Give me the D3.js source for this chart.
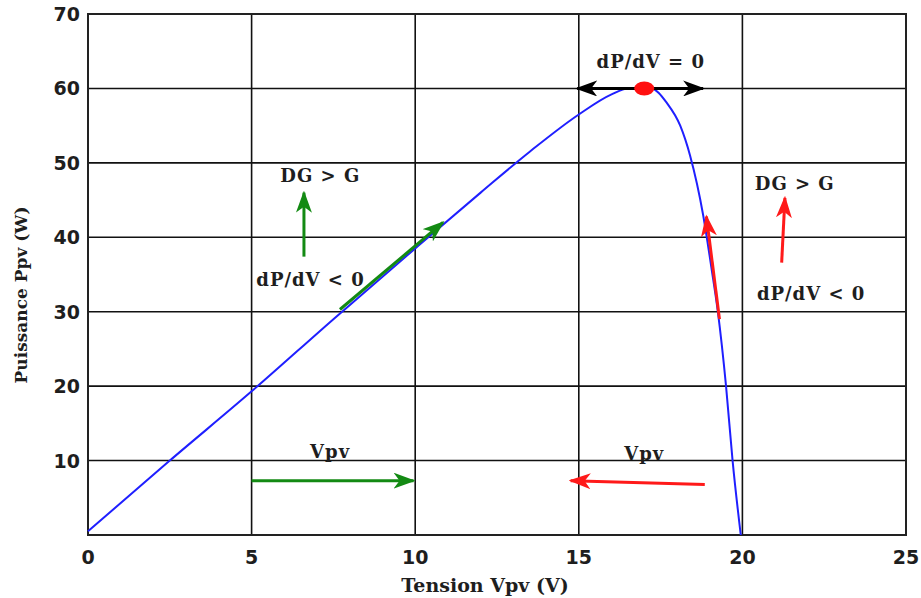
<!DOCTYPE html>
<html>
<head>
<meta charset="utf-8">
<script src="https://cdn.jsdelivr.net/npm/d3@7"></script>
<style>
  body { margin: 0; background: #fff; }
  .tick-lbl { font-family: "DejaVu Sans", Verdana, sans-serif; font-weight: bold; font-size: 19px; fill: #1e1e1e; }
  .ann { font-family: "DejaVu Serif", "Liberation Serif", serif; font-weight: bold; font-size: 18px; letter-spacing: 1px; fill: #1e1e1e; }
  .ttl { font-family: "DejaVu Serif", "Liberation Serif", serif; font-weight: bold; font-size: 19px; fill: #1e1e1e; }
</style>
</head>
<body>
<div id="viz"></div>
<script>
// P-V curve of the panel
var voltage = [0, 2.5, 5, 7.5, 10, 12, 13.5, 15, 16, 16.5, 17.2, 17.7, 18.1, 18.4, 18.8, 19.05, 19.25, 19.5, 19.7, 19.95];
var power   = [0.5, 10, 19.3, 29, 38.5, 46, 51.5, 56.5, 59.2, 60, 60, 58, 55, 51, 43, 36, 30, 20, 10, 0];

var xTicks = [0, 5, 10, 15, 20, 25];
var yTicks = [10, 20, 30, 40, 50, 60, 70];
var mpp = [17, 60];

// annotation arrows, in data units: [x1, y1, x2, y2, colour]
var arrows = [
  [15.0, 60, 18.8, 60, "#000"],
  [16.9, 60, 14.95, 60, "#000"],
  [6.6, 37.4, 6.6, 46.0, "#138a13"],
  [7.7, 30.3, 10.85, 42.0, "#138a13"],
  [5.0, 7.3, 9.95, 7.3, "#138a13"],
  [19.3, 29.0, 18.9, 42.8, "#ff1a1a"],
  [21.2, 36.6, 21.3, 45.3, "#ff1a1a"],
  [18.85, 6.8, 14.75, 7.3, "#ff1a1a"]
];
// annotation texts: [x, y, text]
var labels = [
  [17.2, 62.8, "dP/dV = 0"],
  [7.1, 47.4, "DG > G"],
  [6.8, 33.5, "dP/dV < 0"],
  [21.6, 46.3, "DG > G"],
  [22.1, 31.6, "dP/dV < 0"],
  [7.4, 10.4, "Vpv"],
  [17.0, 10.1, "Vpv"]
];

var width = 921, height = 598;
var x = d3.scaleLinear().domain([0, 25]).range([88, 906]);
var y = d3.scaleLinear().domain([0, 70]).range([535, 14]);

var svg = d3.select("#viz").append("svg")
  .attr("width", width)
  .attr("height", height);

var defs = svg.append("defs");
["#000", "#138a13", "#ff1a1a"].forEach(function(c, i){
  defs.append("marker")
    .attr("id", "ah" + i)
    .attr("viewBox", "0 0 22 16")
    .attr("refX", 20).attr("refY", 8)
    .attr("markerWidth", 22).attr("markerHeight", 16)
    .attr("markerUnits", "userSpaceOnUse")
    .attr("orient", "auto")
    .append("path")
    .attr("d", "M0,0 L22,8 L0,16 L6,8 Z")
    .attr("fill", c);
});
var markerFor = { "#000": "ah0", "#138a13": "ah1", "#ff1a1a": "ah2" };

// grid
svg.append("g").selectAll("line.vx")
  .data(xTicks.slice(1, -1)).enter().append("line")
  .attr("x1", function(d){ return x(d); }).attr("x2", function(d){ return x(d); })
  .attr("y1", y(70)).attr("y2", y(0))
  .attr("stroke", "#111").attr("stroke-width", 1.6);
svg.append("g").selectAll("line.hy")
  .data(yTicks.slice(0, -1)).enter().append("line")
  .attr("y1", function(d){ return y(d); }).attr("y2", function(d){ return y(d); })
  .attr("x1", x(0)).attr("x2", x(25))
  .attr("stroke", "#111").attr("stroke-width", 1.6);
svg.append("rect")
  .attr("x", x(0)).attr("y", y(70))
  .attr("width", x(25) - x(0)).attr("height", y(0) - y(70))
  .attr("fill", "none").attr("stroke", "#222").attr("stroke-width", 2);

// tick labels
svg.append("g").selectAll("text")
  .data(xTicks).enter().append("text")
  .attr("class", "tick-lbl")
  .attr("x", function(d){ return x(d); })
  .attr("y", 564)
  .attr("text-anchor", "middle")
  .text(function(d){ return d; });
svg.append("g").selectAll("text")
  .data(yTicks).enter().append("text")
  .attr("class", "tick-lbl")
  .attr("x", 80)
  .attr("y", function(d){ return y(d) + 7; })
  .attr("text-anchor", "end")
  .text(function(d){ return d; });

// axis titles
svg.append("text").attr("class", "ttl")
  .attr("x", 485).attr("y", 592)
  .attr("text-anchor", "middle")
  .text("Tension Vpv (V)");
svg.append("text").attr("class", "ttl")
  .attr("transform", "translate(27," + 295 + ")rotate(-90)")
  .attr("text-anchor", "middle")
  .style("font-size", "17px")
  .text("Puissance Ppv (W)");

// curve
var pts = voltage.map(function(v, i){ return [v, power[i]]; });
svg.append("path")
  .datum(pts)
  .attr("fill", "none")
  .attr("stroke", "#1f1fff")
  .attr("stroke-width", 2)
  .attr("d", d3.line().x(function(d){ return x(d[0]); }).y(function(d){ return y(d[1]); }).curve(d3.curveMonotoneX));

// arrows
svg.append("g").selectAll("line")
  .data(arrows).enter().append("line")
  .attr("x1", function(d){ return x(d[0]); }).attr("y1", function(d){ return y(d[1]); })
  .attr("x2", function(d){ return x(d[2]); }).attr("y2", function(d){ return y(d[3]); })
  .attr("stroke", function(d){ return d[4]; })
  .attr("stroke-width", 3)
  .attr("marker-end", function(d){ return "url(#" + markerFor[d[4]] + ")"; });

// max power point
svg.append("ellipse")
  .attr("cx", x(mpp[0])).attr("cy", y(mpp[1]))
  .attr("rx", 10).attr("ry", 7)
  .attr("fill", "#ff1010");

svg.append("g").selectAll("text")
  .data(labels).enter().append("text")
  .attr("class", "ann")
  .attr("x", function(d){ return x(d[0]); })
  .attr("y", function(d){ return y(d[1]); })
  .attr("text-anchor", "middle")
  .text(function(d){ return d[2]; });
</script>
</body>
</html>
